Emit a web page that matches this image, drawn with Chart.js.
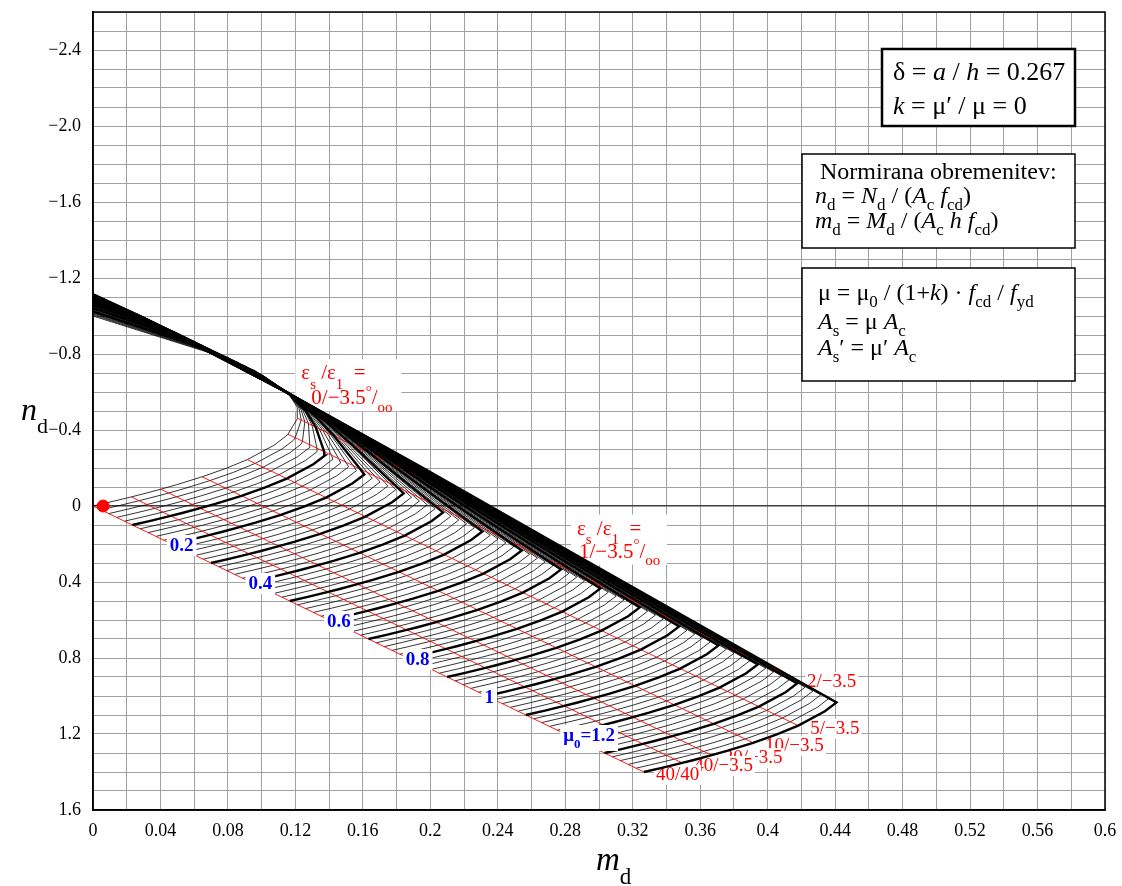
<!DOCTYPE html>
<html>
<head>
<meta charset="utf-8">
<script src="https://cdn.jsdelivr.net/npm/chart.js@4.4.1/dist/chart.umd.min.js"></script>
<style>
    html, body { margin: 0; padding: 0; background: #fff; }
    #wrap { width: 1122px; height: 886px; }
</style>
</head>
<body>
<div id="wrap"><canvas id="chart" width="1122" height="886"></canvas></div>
<script>
// Interakcijski diagram - vrednosti odčitane z diagrama
const mu0Values = [0, 0.02, 0.04, 0.06, 0.08, 0.1, 0.12, 0.14, 0.16, 0.18, 0.2, 0.22, 0.24, 0.26, 0.28, 0.3,
    0.32, 0.34, 0.36, 0.38, 0.4, 0.42, 0.44, 0.46, 0.48, 0.5, 0.52, 0.54, 0.56, 0.58, 0.6, 0.62, 0.64, 0.66,
    0.68, 0.7, 0.72, 0.74, 0.76, 0.78, 0.8, 0.82, 0.84, 0.86, 0.88, 0.9, 0.92, 0.94, 0.96, 0.98, 1, 1.02,
    1.04, 1.06, 1.08, 1.1, 1.12, 1.14, 1.16, 1.18, 1.2, 1.22, 1.24, 1.26, 1.28, 1.3, 1.32, 1.34, 1.36, 1.38, 1.4];
const boldMu0 = [0.1, 0.2, 0.3, 0.4, 0.5, 0.6, 0.7, 0.8, 0.9, 1, 1.1, 1.2, 1.3, 1.4];
const labelledMu0 = [0.2, 0.4, 0.6, 0.8, 1, 1.2];

// deformacijska stanja eps_s / eps_1 (promile), od natega proti tlaku
const strainStates = ['40/40', '40/−2', '40/−3.5', '30/−3.5', '20/−3.5', '15/−3.5', '10/−3.5', '7/−3.5',
    '5/−3.5', '3/−3.5', '2.17/−3.5', '2/−3.5', '1/−3.5', '0.5/−3.5', '0/−3.5', '−0.48/−3.5', '−0.93/−3.5',
    '−1.47/−2.75', '−2/−2'];
// tocka krivulje mu0 = 0 (samo beton)
const concreteM = [0, 0.0113, 0.0227, 0.0290, 0.0402, 0.0497, 0.0647, 0.0788, 0.0915, 0.1073, 0.1142,
    0.1156, 0.1213, 0.1211, 0.1158, 0.1007, 0.0680, 0.0169, 0];
const concreteN = [0, -0.0233, -0.0478, -0.0620, -0.0884, -0.1123, -0.1538, -0.1978, -0.2443, -0.3195,
    -0.3661, -0.3778, -0.4615, -0.5192, -0.5934, -0.6880, -0.8095, -0.9524, -1.0];
// premik tocke na enoto mu0 (armatura)
const steelM = [0.2333, 0.2333, 0.2333, 0.2333, 0.2333, 0.2333, 0.2333, 0.2333, 0.2333, 0.2333, 0.2333,
    0.2147, 0.1073, 0.0537, 0, -0.0517, -0.1003, -0.1574, -0.2147];
const steelN = [1, 1, 1, 1, 1, 1, 1, 1, 1, 1, 1, 0.92, 0.46, 0.23, 0, -0.2215, -0.4297, -0.6745, -0.92];

// rdece premice (stanja) in njihove oznake
const rayStates = ['40/40', '40/−3.5', '20/−3.5', '10/−3.5', '5/−3.5', '2/−3.5', '1/−3.5'];
const rayEndLabels = ['2/−3.5', '5/−3.5', '10/−3.5', '20/−3.5', '40/−3.5', '40/40'];

// obremenitev (rdeca tocka)
const loadM = [0.006];
const loadN = [0];

const SERIF = '"Liberation Serif", "Times New Roman", serif';
const muMax = mu0Values[mu0Values.length - 1];

function pointAt(i, mu) {
    return { x: concreteM[i] + mu * steelM[i], y: concreteN[i] + mu * steelN[i] };
}
function curve(mu) {
    return strainStates.map((s, i) => pointAt(i, mu));
}
function isBold(mu) {
    return boldMu0.some(b => Math.abs(b - mu) < 1e-9);
}

// tekst z indeksi: [besedilo, slog] slog: i = lezece, s = indeks, p = eksponent, b = krepko
function richText(ctx, x, y, parts, size, color, dry, subOff) {
    let cx = x;
    const off = subOff || 0.36;
    ctx.textAlign = 'left';
    ctx.textBaseline = 'alphabetic';
    ctx.fillStyle = color;
    for (const [t, st] of parts) {
        const sub = st.includes('s'), sup = st.includes('p');
        const fs = (sub || sup) ? Math.round(size * 0.7) : size;
        ctx.font = (st.includes('i') ? 'italic ' : '') + (st.includes('b') ? 'bold ' : '') + fs + 'px ' + SERIF;
        const dy = sub ? size * off : sup ? -size * 0.4 : 0;
        if (!dry) ctx.fillText(t, cx, y + dy);
        cx += ctx.measureText(t).width;
    }
    return cx - x;
}

function whiteBox(ctx, x0, y0, x1, y1) {
    ctx.fillStyle = '#fff';
    ctx.fillRect(x0, y0, x1 - x0, y1 - y0);
}

const permille = [['°', 'p'], ['/', ''], ['oo', 's']];
const epsHead = [['ε', ''], ['s', 's'], [' /ε', ''], ['1', 's'], ['  =', '']];

const labelsPlugin = {
    id: 'stateLabels',
    beforeDatasetsDraw(chart) {
        const { ctx, scales: { x, y } } = chart;
        ctx.save();
        // oznake na koncu rdecih premic
        rayEndLabels.forEach(lbl => {
            const i = strainStates.indexOf(lbl);
            const p = pointAt(i, muMax);
            const px = x.getPixelForValue(p.x) + 12;
            const py = y.getPixelForValue(p.y) + 8;
            const w = richText(ctx, px, py, [[lbl, '']], 19, '#f00', true);
            whiteBox(ctx, px - 2, py - 15, px + w + 2, py + 5);
            richText(ctx, px, py, [[lbl, '']], 19, '#f00');
        });
        // eps_s / eps_1 oznake
        const q = pointAt(strainStates.indexOf('0/−3.5'), 0);
        const qx = x.getPixelForValue(q.x) + 13, qy = y.getPixelForValue(q.y) - 14;
        whiteBox(ctx, qx - 6, qy - 20, qx + 100, qy + 32);
        richText(ctx, qx, qy, epsHead, 21, '#f00', false, 0.45);
        richText(ctx, qx + 10, qy + 25, [['0/−3.5', '']].concat(permille), 21, '#f00');
        const p1 = pointAt(strainStates.indexOf('1/−3.5'), muMax);
        const px1 = x.getPixelForValue(p1.x) + 26, py1 = y.getPixelForValue(p1.y) - 6;
        whiteBox(ctx, px1 - 6, py1 - 20, px1 + 90, py1 + 30);
        richText(ctx, px1, py1, epsHead, 21, '#f00', false, 0.45);
        richText(ctx, px1 + 2, py1 + 23, [['1/−3.5', '']].concat(permille), 21, '#f00');
        ctx.restore();
    },
    afterDatasetsDraw(chart) {
        const { ctx, chartArea: a, scales: { x, y } } = chart;
        ctx.save();
        // oznake mu0
        labelledMu0.forEach(mu => {
            const p = pointAt(0, mu);
            const px = x.getPixelForValue(p.x) - 2;
            const py = y.getPixelForValue(p.y) + 7;
            const parts = mu === 1.2 ? [['μ', 'b'], ['0', 'bs'], ['=1.2', 'b']] : [[String(mu), 'b']];
            const w = richText(ctx, px, py, parts, 19, '#0000f0', true);
            whiteBox(ctx, px - 3, py - 16, px + w + 3, py + (mu === 1.2 ? 10 : 5));
            richText(ctx, px, py, parts, 19, '#0000f0');
        });
        // okvir
        ctx.strokeStyle = '#000';
        ctx.lineWidth = 1.5;
        ctx.strokeRect(a.left, a.top, a.right - a.left, a.bottom - a.top);
        ctx.restore();
    },
    afterDraw(chart) {
        const { ctx } = chart;
        ctx.save();
        // okvir 1
        whiteBox(ctx, 882, 49, 1075, 126);
        ctx.lineWidth = 2.5; ctx.strokeStyle = '#000';
        ctx.strokeRect(882, 49, 193, 77);
        richText(ctx, 893, 80, [['δ = ', ''], ['a', 'i'], [' / ', ''], ['h', 'i'], [' = 0.267', '']], 26, '#000');
        richText(ctx, 893, 114, [['k', 'i'], [' = μ′ / μ = 0', '']], 26, '#000');
        // okvir 2
        whiteBox(ctx, 802, 154, 1075, 248);
        ctx.lineWidth = 1.5;
        ctx.strokeRect(802, 154, 273, 94);
        richText(ctx, 820, 179, [['Normirana obremenitev:', '']], 24, '#000');
        richText(ctx, 815, 203, [['n', 'i'], ['d', 's'], [' = ', ''], ['N', 'i'], ['d', 's'], [' / (', ''],
            ['A', 'i'], ['c', 's'], [' ', ''], ['f', 'i'], ['cd', 's'], [')', '']], 24, '#000', false, 0.3);
        richText(ctx, 815, 228, [['m', 'i'], ['d', 's'], [' = ', ''], ['M', 'i'], ['d', 's'], [' / (', ''],
            ['A', 'i'], ['c', 's'], [' ', ''], ['h', 'i'], [' ', ''], ['f', 'i'], ['cd', 's'], [')', '']], 24, '#000', false, 0.3);
        // okvir 3
        whiteBox(ctx, 802, 268, 1075, 381);
        ctx.strokeRect(802, 268, 273, 113);
        richText(ctx, 818, 300, [['μ = μ', ''], ['0', 's'], [' / (1+', ''], ['k', 'i'], [') · ', ''],
            ['f', 'i'], ['cd', 's'], [' / ', ''], ['f', 'i'], ['yd', 's']], 24, '#000', false, 0.3);
        richText(ctx, 818, 329, [['A', 'i'], ['s', 's'], [' = μ ', ''], ['A', 'i'], ['c', 's']], 24, '#000', false, 0.3);
        richText(ctx, 818, 355, [['A', 'i'], ['s', 's'], ['′ = μ′ ', ''], ['A', 'i'], ['c', 's']], 24, '#000', false, 0.3);
        // naslovi osi
        richText(ctx, 596, 870, [['m', 'i'], ['d', 's']], 33, '#000', false, 0.42);
        richText(ctx, 21, 420, [['n', 'i'], ['d', 's']], 32, '#000', false, 0.42);
        ctx.restore();
    }
};

const datasets = [];
mu0Values.filter(mu => !isBold(mu)).forEach(mu => {
    datasets.push({ data: curve(mu), showLine: true, borderColor: '#000', borderWidth: 0.8, pointRadius: 0, order: 3 });
});
rayStates.forEach(s => {
    const i = strainStates.indexOf(s);
    datasets.push({ data: [pointAt(i, 0), pointAt(i, muMax)], showLine: true, borderColor: '#ff0000',
        borderWidth: 0.9, pointRadius: 0, order: 2 });
});
boldMu0.forEach(mu => {
    datasets.push({ data: curve(mu), showLine: true, borderColor: '#000', borderWidth: 2.4, pointRadius: 0, order: 1 });
});
datasets.push({ data: loadM.map((m, i) => ({ x: m, y: loadN[i] })), showLine: false, pointRadius: 6,
    pointBackgroundColor: '#ff0000', pointBorderColor: '#ff0000', order: 0, clip: false });

const fmtX = v => String(Math.round(v * 100) / 100);
const fmtY = v => {
    const r = Math.round(v * 10) / 10;
    if (r === 0) return '0';
    return (r < 0 ? '−' : '') + Math.abs(r).toFixed(1);
};

new Chart(document.getElementById('chart'), {
    type: 'scatter',
    data: { datasets },
    options: {
        responsive: false,
        animation: false,
        devicePixelRatio: 1,
        layout: { padding: { top: 12, right: 17, left: 0, bottom: 0 } },
        plugins: { legend: { display: false }, tooltip: { enabled: false } },
        scales: {
            x: {
                type: 'linear', min: 0, max: 0.6,
                afterFit: s => { s.height = 76; s.paddingLeft = 0; s.paddingRight = 0; },
                ticks: {
                    stepSize: 0.02, autoSkip: false, maxRotation: 0, padding: 10,
                    font: { family: SERIF, size: 18 }, color: '#000',
                    callback: v => (Math.round(v * 100) % 4 === 0 ? fmtX(v) : '')
                },
                grid: { color: '#a0a0a0', drawTicks: false },
                border: { color: '#000', width: 1.5 }
            },
            y: {
                type: 'linear', min: -2.6, max: 1.6, reverse: true,
                afterFit: s => { s.width = 93; s.paddingTop = 0; s.paddingBottom = 0; },
                ticks: {
                    stepSize: 0.1, autoSkip: false, padding: 12,
                    font: { family: SERIF, size: 18 }, color: '#000',
                    callback: v => (Math.round(v * 10) % 4 === 0 ? fmtY(v) : '')
                },
                grid: {
                    drawTicks: false,
                    color: c => (Math.abs(c.tick.value) < 1e-9 ? '#404040' : '#a0a0a0'),
                    lineWidth: c => (Math.abs(c.tick.value) < 1e-9 ? 1.5 : 1)
                },
                border: { color: '#000', width: 1.5 }
            }
        }
    },
    plugins: [labelsPlugin]
});
</script>
</body>
</html>
